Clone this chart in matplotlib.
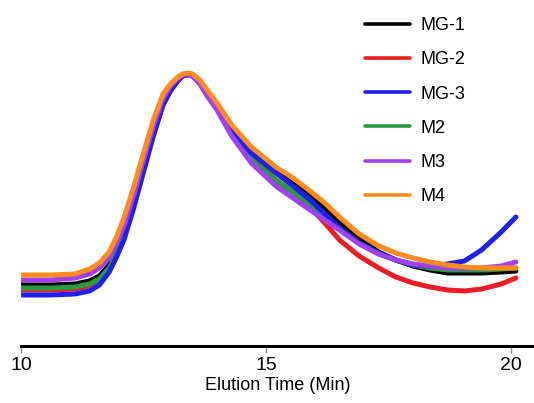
import matplotlib.pyplot as plt

plt.rcParams['font.family'] = ['Liberation Sans', 'DejaVu Sans']

# elution time (min)
time = [10.0, 10.6, 11.1, 11.4, 11.6, 11.8, 11.95, 12.1, 12.3, 12.5, 12.7, 12.9, 13.05,
        13.2, 13.3, 13.4, 13.5, 13.65, 13.8, 14.0, 14.3, 14.7, 15.2, 15.55, 15.9, 16.2,
        16.5, 16.9, 17.3, 17.65, 18.0, 18.35, 18.7, 19.05, 19.4, 19.8, 20.1]

# detector signal (arbitrary units)
mg1 = [65, 65, 66, 69, 74, 85, 100, 116, 148, 184, 219, 249, 262,
       271, 275, 276, 275, 268, 258, 245, 222, 200, 180, 168, 155, 142,
       128, 111, 98, 90, 84, 80, 77, 77, 77, 78, 79]
mg2 = [60, 60, 61, 64, 70, 82, 97, 114, 146, 183, 218, 248, 261,
       270, 275, 276, 275, 267, 256, 243, 218, 193, 170, 157, 143, 127,
       110, 94, 82, 73, 67, 63, 60, 59, 61, 66, 72]
mg3 = [55, 55, 56, 59, 65, 78, 93, 110, 142, 178, 214, 245, 259,
       269, 274, 275, 274, 267, 257, 244, 220, 197, 177, 164, 150, 136,
       122, 107, 97, 90, 85, 84, 86, 89, 100, 118, 133]
m2 = [62, 62, 63, 66, 71, 82, 96, 112, 144, 180, 215, 246, 261,
      270, 275, 276, 275, 267, 256, 243, 218, 192, 170, 158, 145, 133,
      122, 107, 96, 90, 85, 82, 80, 80, 80, 81, 82]
m3 = [70, 70, 72, 76, 82, 92, 107, 124, 155, 190, 224, 252, 264,
      272, 275, 276, 274, 266, 254, 240, 214, 187, 164, 152, 140, 130,
      120, 106, 96, 90, 86, 84, 82, 82, 82, 84, 88]
m4 = [75, 75, 76, 81, 87, 98, 113, 132, 163, 197, 230, 256, 266,
      273, 276, 277, 276, 270, 260, 247, 225, 203, 183, 172, 159, 147,
      133, 116, 104, 97, 92, 88, 85, 83, 82, 82, 82]

series = [
    ('MG-1', mg1, 'black'),
    ('MG-2', mg2, '#ee1c24'),
    ('MG-3', mg3, '#2020ee'),
    ('M2', m2, '#2a9a40'),
    ('M3', m3, '#a040f0'),
    ('M4', m4, '#ff8a1e'),
]
draw_order = ['MG-2', 'MG-1', 'M2', 'MG-3', 'M3', 'M4']

fig = plt.figure(figsize=(5.34, 4.03), dpi=100)
ax = fig.add_axes([21 / 534, 57 / 403, 1 - 21 / 534, 346 / 403])

lines = {}
for name, vals, color in series:
    z = 2 + draw_order.index(name)
    lines[name], = ax.plot(time, vals, color=color, lw=3.6, label=name, zorder=z,
                           solid_capstyle='round', solid_joinstyle='round')

ax.set_xlim(10, 10 + 513 / 49)
ax.set_ylim(4, 350)
ax.set_xticks([10, 15, 20])
ax.set_yticks([])
for s in ['left', 'right', 'top']:
    ax.spines[s].set_visible(False)
ax.spines['bottom'].set_linewidth(2.2)
ax.tick_params(axis='x', length=5, width=1, color='#888888', labelsize=14, pad=3)
ax.set_xlabel('Elution Time (Min)', fontsize=13, labelpad=2)

leg = ax.legend([lines[n] for n, _, _ in series], [n for n, _, _ in series],
                loc='upper left', bbox_to_anchor=(344 / 513, 0.95), frameon=False,
                fontsize=13, handlelength=2.5, handletextpad=0.55, labelspacing=0.95,
                borderpad=0, borderaxespad=0)
for line in leg.get_lines():
    line.set_linewidth(2.6)

fig.savefig('out.png', dpi=100)
